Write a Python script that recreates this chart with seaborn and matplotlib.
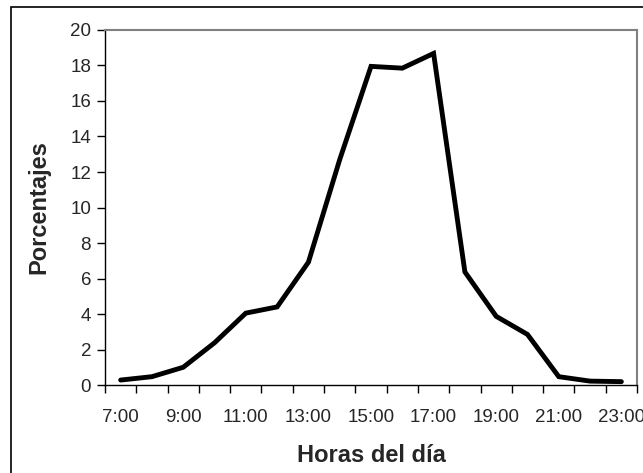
import matplotlib
matplotlib.use("Agg")
import matplotlib.pyplot as plt
import matplotlib.patches as mpatches
import seaborn as sns
import pandas as pd
import numpy as np

horas = ["7:00", "8:00", "9:00", "10:00", "11:00", "12:00", "13:00", "14:00", "15:00",
         "16:00", "17:00", "18:00", "19:00", "20:00", "21:00", "22:00", "23:00"]
porcentajes = [0.28, 0.47, 1.0, 2.38, 4.05, 4.4, 6.92, 12.7, 17.95,
               17.85, 18.68, 6.37, 3.87, 2.85, 0.47, 0.22, 0.19]

df = pd.DataFrame({"pos": np.arange(len(horas)), "pct": porcentajes})

sns.set_style("white")
plt.rcParams["font.family"] = ["Liberation Sans", "DejaVu Sans"]

fig = plt.figure(figsize=(6.43, 4.73), dpi=100)
ax = fig.add_axes([0.1633, 0.186, 0.8274, 0.7506])

sns.lineplot(data=df, x="pos", y="pct", ax=ax, color="black", linewidth=3.5,
             solid_joinstyle="miter")

ax.set_xlim(-0.5, len(horas) - 0.5)
ax.set_ylim(0, 20)
ax.set_yticks(np.arange(0, 21, 2))

# labels every other hour, tick marks between categories
ax.set_xticks(df["pos"][::2])
ax.set_xticklabels(horas[::2])
ax.set_xticks(np.arange(-0.5, len(horas), 1), minor=True)
ax.tick_params(axis="x", which="major", length=0, pad=17, labelsize=13.5)
ax.tick_params(axis="x", which="minor", length=6, width=1, direction="out", color="black")
ax.tick_params(axis="y", length=6, width=1, direction="out", color="black", labelsize=13.5, pad=4)
ax.xaxis.set_ticks_position("bottom")
ax.yaxis.set_ticks_position("left")

for side in ["left", "bottom"]:
    ax.spines[side].set_color("black")
    ax.spines[side].set_linewidth(1)
for side in ["top", "right"]:
    ax.spines[side].set_color("#808080")
    ax.spines[side].set_linewidth(1.5)

ax.set_xlabel("Horas del día", fontsize=17, fontweight="bold", labelpad=13)
ax.set_ylabel("Porcentajes", fontsize=17, fontweight="bold", labelpad=14)

# outer chart frame
fig.patches.append(mpatches.Rectangle((11 / 643, -0.1), 1.2, 1 - 7 / 473 + 0.1,
                                      transform=fig.transFigure, fill=False,
                                      edgecolor="black", linewidth=1.2))

fig.savefig("out.png", dpi=100)
